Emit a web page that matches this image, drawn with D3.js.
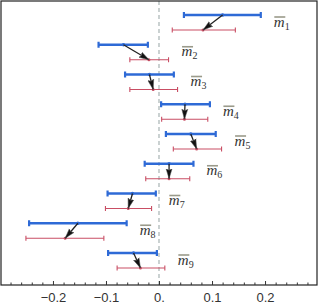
<!DOCTYPE html>
<html>
<head>
<meta charset="utf-8">
<script src="https://cdn.jsdelivr.net/npm/d3@7"></script>
<style>
  body { margin: 0; background: #fff; }
</style>
</head>
<body>
<div class="chartContainer"></div>
<script>
// rows, top to bottom
var names = ['1', '2', '3', '4', '5', '6', '7', '8', '9'];

// blue intervals (upper), low / centre / high
var blueLo  = [0.047, -0.114, -0.064, 0.004, 0.013, -0.027, -0.097, -0.245, -0.096];
var blueMid = [0.120, -0.067, -0.018, 0.049, 0.060,  0.019, -0.050, -0.153, -0.048];
var blueHi  = [0.192, -0.021,  0.028, 0.096, 0.107,  0.065, -0.006, -0.061, -0.004];

// red intervals (lower)
var redLo  = [0.025, -0.055, -0.055, 0.005, 0.027, -0.025, -0.101, -0.251, -0.079];
var redMid = [0.083, -0.019, -0.011, 0.048, 0.071,  0.019, -0.058, -0.177, -0.035];
var redHi  = [0.144,  0.018,  0.035, 0.092, 0.118,  0.058, -0.014, -0.104,  0.011];

var xTicks = [-0.2, -0.1, 0, 0.1, 0.2];
var xTickLabels = ['\u22120.2', '\u22120.1', '0.', '0.1', '0.2'];

function Graph() {
    const width = 319;
    const height = 307;
    const left = 1, right = 317, top = 1, bottom = 285;
    const blue = '#2e6ad6';
    const red = '#c94e64';

    const xScale = d3.scaleLinear()
                     .domain([-0.298, 0.298])
                     .range([left, right]);

    const yScale = d3.scalePoint()  // one row per m_i, blue line sits on it
                     .domain(names)
                     .range([15, 253]);
    const gap = 15; // red line below the blue one

    const svg = d3.select('.chartContainer')
                  .append('svg')
                    .attr('width', width)
                    .attr('height', height);

    svg.append('defs').append('marker')
        .attr('id', 'head')
        .attr('viewBox', '0 0 10 10')
        .attr('refX', 10)
        .attr('refY', 5)
        .attr('markerWidth', 10)
        .attr('markerHeight', 10)
        .attr('markerUnits', 'userSpaceOnUse')
        .attr('orient', 'auto')
      .append('path')
        .attr('d', 'M0,2 L10,5 L0,8 L1.5,5 Z')
        .attr('fill', '#111')
        .attr('stroke', '#555')
        .attr('stroke-width', 0.5);

    // dashed zero line
    svg.append('line')
        .attr('x1', xScale(0)).attr('x2', xScale(0))
        .attr('y1', top).attr('y2', bottom)
        .attr('stroke', '#a8b4b4')
        .attr('stroke-width', 1.2)
        .attr('stroke-dasharray', '4,3');

    const rows = names.map((n, i) => ({
        name: n,
        bl: blueLo[i], bm: blueMid[i], bh: blueHi[i],
        rl: redLo[i], rm: redMid[i], rh: redHi[i]
    }));

    const g = svg.selectAll('g.row')
                 .data(rows)
                 .enter()
                 .append('g')
                   .attr('class', 'row');

    // red interval
    g.append('line')
        .attr('x1', d => xScale(d.rl)).attr('x2', d => xScale(d.rh))
        .attr('y1', d => yScale(d.name) + gap).attr('y2', d => yScale(d.name) + gap)
        .attr('stroke', red).attr('stroke-width', 1.1);
    ['rl', 'rh'].forEach(k => {
        g.append('line')
            .attr('x1', d => xScale(d[k])).attr('x2', d => xScale(d[k]))
            .attr('y1', d => yScale(d.name) + gap - 2.5).attr('y2', d => yScale(d.name) + gap + 2.5)
            .attr('stroke', red).attr('stroke-width', 1.1);
    });
    g.append('circle')
        .attr('cx', d => xScale(d.rm)).attr('cy', d => yScale(d.name) + gap)
        .attr('r', 1.5).attr('fill', red);

    // blue interval
    g.append('line')
        .attr('x1', d => xScale(d.bl)).attr('x2', d => xScale(d.bh))
        .attr('y1', d => yScale(d.name)).attr('y2', d => yScale(d.name))
        .attr('stroke', blue).attr('stroke-width', 2.4);
    ['bl', 'bh'].forEach(k => {
        g.append('line')
            .attr('x1', d => xScale(d[k])).attr('x2', d => xScale(d[k]))
            .attr('y1', d => yScale(d.name) - 3).attr('y2', d => yScale(d.name) + 3)
            .attr('stroke', blue).attr('stroke-width', 2.2);
    });
    g.append('circle')
        .attr('cx', d => xScale(d.bm)).attr('cy', d => yScale(d.name))
        .attr('r', 1.8).attr('fill', blue);

    // arrow from blue centre to red centre
    g.append('line')
        .attr('x1', d => xScale(d.bm)).attr('y1', d => yScale(d.name))
        .attr('x2', d => xScale(d.rm)).attr('y2', d => yScale(d.name) + gap)
        .attr('stroke', '#222')
        .attr('stroke-width', 1.3)
        .attr('marker-end', 'url(#head)');

    // labels  m̄_i
    const labX = d => xScale(Math.max(d.bh, d.rh)) + 13;
    const labY = d => yScale(d.name) + gap / 2 + 4;
    const lab = g.append('text')
        .attr('x', labX)
        .attr('y', labY)
        .attr('font-family', 'Liberation Serif, serif')
        .attr('fill', '#333');
    lab.append('tspan')
        .attr('font-style', 'italic')
        .attr('font-size', 15)
        .text('m');
    lab.append('tspan')
        .attr('font-size', 10)
        .attr('dy', 3)
        .text(d => d.name);
    // the bar over m
    g.append('line')
        .attr('x1', d => labX(d) + 0.5).attr('x2', d => labX(d) + 11.5)
        .attr('y1', d => labY(d) - 9.5).attr('y2', d => labY(d) - 9.5)
        .attr('stroke', '#9a9a8a')
        .attr('stroke-width', 1.6);

    // frame
    svg.append('rect')
        .attr('x', left).attr('y', top)
        .attr('width', right - left).attr('height', bottom - top)
        .attr('fill', 'none')
        .attr('stroke', '#222')
        .attr('stroke-width', 1.2);

    // bottom ticks pointing inwards
    const axis = d3.axisBottom(xScale)
                   .tickValues(xTicks)
                   .tickSizeInner(-4)
                   .tickSizeOuter(0)
                   .tickFormat((d, i) => xTickLabels[i]);
    const ax = svg.append('g')
                  .attr('transform', `translate(0, ${bottom})`)
                  .call(axis);
    ax.select('.domain').remove();
    ax.selectAll('.tick line').attr('stroke', '#333');
    ax.selectAll('.tick text')
        .attr('y', 8)
        .attr('font-family', 'Liberation Sans, Arial, sans-serif')
        .attr('font-size', 13)
        .attr('fill', '#333');

    const minor = d3.range(-28, 29, 2).map(v => v / 100)
                    .filter(v => Math.abs(v * 10 - Math.round(v * 10)) > 1e-6);
    const axMinor = d3.axisBottom(xScale)
                      .tickValues(minor)
                      .tickSizeInner(-2.5)
                      .tickSizeOuter(0)
                      .tickFormat('');
    const am = svg.append('g')
                  .attr('transform', `translate(0, ${bottom})`)
                  .call(axMinor);
    am.select('.domain').remove();
    am.selectAll('.tick line').attr('stroke', '#333');
}

Graph();
</script>
</body>
</html>
